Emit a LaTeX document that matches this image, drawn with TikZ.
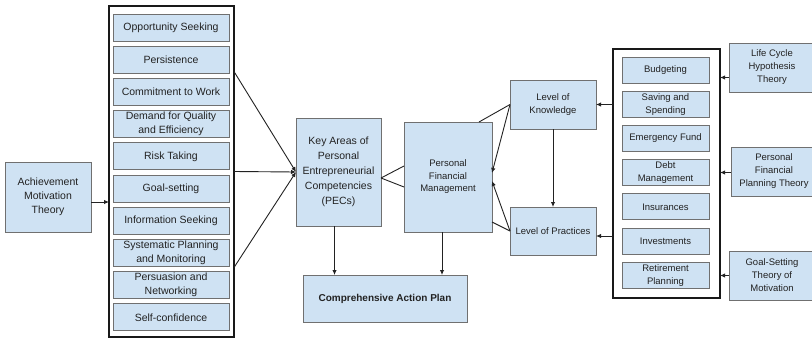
\documentclass[tikz,border=0pt]{standalone}
\usepackage{fontspec}
\setmainfont{Liberation Sans}
\usetikzlibrary{arrows.meta}
\definecolor{boxblue}{HTML}{CFE2F3}
\definecolor{boxline}{HTML}{707070}
\definecolor{ink}{HTML}{222222}
\begin{document}
\begin{tikzpicture}[x=1pt,y=-1pt,
  box/.style={draw=boxline, fill=boxblue, line width=0.9pt, inner sep=0pt, outer sep=0pt,
    align=center, anchor=north west, text=ink},
  big/.style={font=\fontsize{10.5}{14}\selectfont},
  small/.style={font=\fontsize{9.5}{13}\selectfont},
  frame/.style={draw=black!90, line width=1.3pt, inner sep=0pt, outer sep=0pt, anchor=north west},
  arr/.style={-{Latex[length=5pt,width=4.5pt]}, line width=0.9pt, draw=ink},
  link/.style={line width=0.9pt, draw=ink}]
\useasboundingbox (0,0) rectangle (812,338);

% theory feeding the competencies
\node[box,big,minimum width=86,minimum height=70] (amt) at (5,162) {Achievement\\Motivation\\Theory};

% frame holding the ten competencies
\node[frame,minimum width=125,minimum height=331] (lf) at (109,6) {};
\foreach \t [count=\i from 0] in {Opportunity Seeking, Persistence, Commitment to Work,
    {Demand for Quality\\and Efficiency}, Risk Taking, Goal-setting, Information Seeking,
    {Systematic Planning\\and Monitoring}, {Persuasion and\\Networking}, Self-confidence}
  \node[box,big,minimum width=116,minimum height=27] (k\i) at (113,{14+32.2*\i}) {\t};

% central boxes
\node[box,font=\fontsize{10.5}{15}\selectfont,minimum width=85,minimum height=108] (pec) at (296,118)
  {Key Areas of\\Personal\\Entrepreneurial\\Competencies\\(PECs)};
\node[box,font=\fontsize{9.5}{12.5}\selectfont,minimum width=88,minimum height=110] (pfm) at (404,122)
  {Personal\\Financial\\Management};
\node[box,small,minimum width=86,minimum height=49] (lok) at (510,80) {Level of\\Knowledge};
\node[box,small,minimum width=86,minimum height=48] (lop) at (510,207) {Level of Practices};
\node[box,font=\fontsize{10}{12}\selectfont\bfseries,minimum width=164,minimum height=47] (cap) at (303,275)
  {Comprehensive Action Plan};

% frame holding the financial areas
\node[frame,minimum width=107,minimum height=249] (rf) at (613,49) {};
\foreach \t [count=\i from 0] in {Budgeting, {Saving and\\Spending}, Emergency Fund,
    {Debt\\Management}, Insurances, Investments, {Retirement\\Planning}}
  \node[box,small,minimum width=87,minimum height=26] (f\i) at (622,{57+34.2*\i}) {\t};

% theories on the right
\node[box,small,minimum width=86,minimum height=49] (lc) at (729,43) {Life Cycle\\Hypothesis\\Theory};
\node[box,small,minimum width=86,minimum height=49] (pfpt) at (731,147) {Personal\\Financial\\Planning Theory};
\node[box,small,minimum width=86,minimum height=49] (gst) at (729,251) {Goal-Setting\\Theory of\\Motivation};

% connectors
\draw[arr] ([yshift=-5pt]amt.east) -- ([yshift=-5pt]amt.east -| lf.west);
\draw[arr] ([yshift=100pt]lf.east) -- (pec.west);
\draw[arr] (lf.east) -- (pec.west);
\draw[arr] ([yshift=-96pt]lf.east) -- (pec.west);

\draw[link] ([yshift=-6pt]pec.east) -- ([yshift=11pt]pfm.west);
\draw[link] ([yshift=-6pt]pec.east) -- ([yshift=-10pt]pfm.west);

\draw[link] (lok.west) -- ([xshift=-13pt]pfm.north east);
\draw[arr] (lok.west) -- ([yshift=4pt]pfm.east);
\draw[arr] (lop.west) -- ([yshift=-4pt]pfm.east);
\draw[link] (lop.west) -- ([yshift=10pt]pfm.south east);
\draw[arr] (lok.south) -- (lop.north);

\draw[arr] ([xshift=-4pt]pec.south) -- ([xshift=-4pt]pec.south |- cap.north);
\draw[arr] ([xshift=-6pt]pfm.south) -- ([xshift=-6pt]pfm.south |- cap.north);

\draw[arr] (lok.east -| rf.west) -- (lok.east);
\draw[arr] ([yshift=-5pt]lop.east -| rf.west) -- ([yshift=-5pt]lop.east);

\draw[arr] ([yshift=-10pt]lc.west) -- ([yshift=-10pt]lc.west -| rf.east);
\draw[arr] ([yshift=-1pt]pfpt.west) -- ([yshift=-1pt]pfpt.west -| rf.east);
\draw[arr] (gst.west) -- (gst.west -| rf.east);
\end{tikzpicture}
\end{document}
